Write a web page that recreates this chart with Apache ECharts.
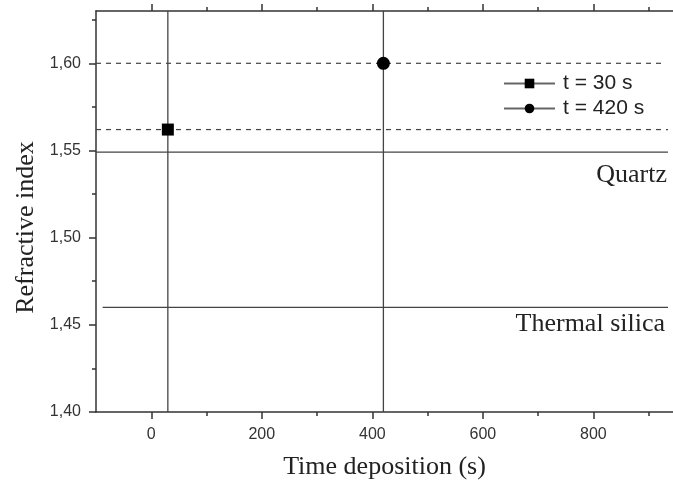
<!DOCTYPE html>
<html>
<head>
<meta charset="utf-8">
<script src="https://cdn.jsdelivr.net/npm/echarts@6/dist/echarts.min.js"></script>
<style>
html,body{margin:0;padding:0;background:#fff;}
#main{width:673px;height:480px;}
</style>
</head>
<body>
<div id="main"></div>
<script>
// axis ranges and ticks
var timeMin = -100, timeMax = 944;
var timeTicks = [0, 200, 400, 600, 800];
var timeMinorTicks = [100, 300, 500, 700, 900];
var indexMin = 1.40, indexMax = 1.63;
var indexTicks = [1.40, 1.45, 1.50, 1.55, 1.60];
var indexMinorTicks = [1.425, 1.475, 1.525, 1.575, 1.625];

// measured samples
var sampleNames = ["t = 30 s", "t = 420 s"];
var sampleTimes = [30, 420];
var sampleIndex = [1.562, 1.600];
var sampleSymbols = ["rect", "circle"];

// reference materials
var quartzIndex = 1.549;
var silicaIndex = 1.460;
var quartzSpan = [-100, 935];
var silicaSpan = [-88, 935];
var dashSpans = [[-100, 925], [-100, 935]];

var lineColor = "#444";
var axisColor = "#333";

function hLine(y, span, dashed){
    return {
        type:"line",
        silent:true,
        symbol:"none",
        data:[[span[0], y], [span[1], y]],
        lineStyle:{color:lineColor, width:dashed ? 1.2 : 1.3, type:dashed ? [5, 5] : "solid"},
        z:2
    };
}
function vLine(x){
    return {
        type:"line",
        silent:true,
        symbol:"none",
        data:[[x, indexMin], [x, indexMax]],
        lineStyle:{color:lineColor, width:1.3},
        z:2
    };
}

var series = [];
// dashed lines through the two samples
series.push(hLine(sampleIndex[1], dashSpans[0], true));
series.push(hLine(sampleIndex[0], dashSpans[1], true));
// material references
series.push(hLine(quartzIndex, quartzSpan, false));
series.push(hLine(silicaIndex, silicaSpan, false));
// vertical lines at the deposition times
sampleTimes.forEach(function(t){ series.push(vLine(t)); });
// the samples themselves
sampleNames.forEach(function(name, i){
    series.push({
        name:name,
        type:"line",
        symbol:sampleSymbols[i],
        symbolSize:i === 0 ? 12 : 13,
        data:[[sampleTimes[i], sampleIndex[i]]],
        itemStyle:{color:"#000"},
        lineStyle:{color:"#666", width:1},
        z:5
    });
});

function xAx(pos, ticks, len, withLine, withLabel){
    return {
        type:"value", position:pos, min:timeMin, max:timeMax,
        axisLine:{show:withLine, onZero:false, lineStyle:{color:axisColor, width:1.5}},
        axisTick:{show:true, customValues:ticks, length:len, lineStyle:{color:axisColor, width:1.5}},
        axisLabel:{show:withLabel, customValues:ticks, margin:15, fontSize:16, color:"#333", fontFamily:"Liberation Sans"},
        splitLine:{show:false}
    };
}
function yAx(ticks, len, withLine, withLabel){
    return {
        type:"value", position:"left", min:indexMin, max:indexMax,
        axisLine:{show:withLine, onZero:false, lineStyle:{color:axisColor, width:1.5}},
        axisTick:{show:true, customValues:ticks, length:len, lineStyle:{color:axisColor, width:1.5}},
        axisLabel:{show:withLabel, customValues:ticks, margin:15, fontSize:16, color:"#333", fontFamily:"Liberation Sans",
            formatter:function(v){ return v.toFixed(2).replace(".", ","); }},
        splitLine:{show:false}
    };
}

var xAxes = [
    xAx("bottom", timeTicks, 7, true, true),
    xAx("bottom", timeMinorTicks, 4, false, false),
    xAx("top", timeTicks, 7, true, false),
    xAx("top", timeMinorTicks, 4, false, false)
];
xAxes[0].name = "Time deposition (s)";
xAxes[0].nameLocation = "middle";
xAxes[0].nameGap = 42;
xAxes[0].nameTextStyle = {fontFamily:"Liberation Serif", fontSize:26, color:"#222"};

var yAxes = [
    yAx(indexTicks, 7, true, true),
    yAx(indexMinorTicks, 4, false, false)
];
yAxes[0].name = "Refractive index";
yAxes[0].nameLocation = "middle";
yAxes[0].nameGap = 56;
yAxes[0].nameTextStyle = {fontFamily:"Liberation Serif", fontSize:26, color:"#222", padding:[0, 32, 0, 0]};

var option = {
    animation:false,
    backgroundColor:"#fff",
    grid:{left:96, right:0, top:11, bottom:68, outerBoundsMode:"none"},
    xAxis:xAxes,
    yAxis:yAxes,
    legend:{
        data:sampleNames,
        orient:"vertical",
        left:498, top:68,
        itemWidth:51, itemHeight:12, itemGap:4,
        textStyle:{fontFamily:"Liberation Sans", fontSize:21, lineHeight:20, color:"#222", padding:[0, 0, 0, 3]}
    },
    graphic:[
        {type:"text", right:6, top:162, style:{text:"Quartz", font:"26px 'Liberation Serif'", fill:"#222"}},
        {type:"text", right:8, top:311, style:{text:"Thermal silica", font:"26px 'Liberation Serif'", fill:"#222"}}
    ],
    series:series
};

var chart = echarts.init(document.getElementById("main"));
chart.setOption(option);
</script>
</body>
</html>
